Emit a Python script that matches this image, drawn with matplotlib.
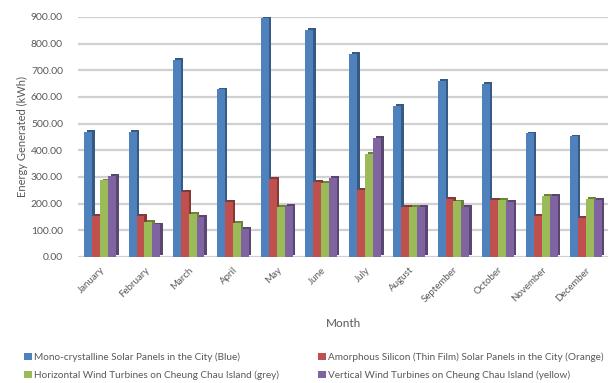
import matplotlib
matplotlib.use("Agg")
import matplotlib.pyplot as plt
import numpy as np
from matplotlib.patches import Patch
from matplotlib.colors import to_rgb

plt.rcParams['font.family'] = ['Lato', 'DejaVu Sans']

months = ["January", "February", "March", "April", "May", "June", "July",
          "August", "September", "October", "November", "December"]
mono = [468, 468, 738, 628, 895, 850, 760, 567, 660, 650, 463, 452]
amorphous = [155, 155, 243, 207, 294, 280, 250, 187, 218, 213, 154, 148]
horizontal = [287, 133, 160, 127, 186, 279, 387, 187, 208, 213, 228, 218]
vertical = [304, 122, 149, 106, 190, 297, 445, 189, 188, 207, 228, 213]

series_names = ["Mono-crystalline Solar Panels in the City (Blue)",
                "Amorphous Silicon (Thin Film) Solar Panels in the City (Orange)",
                "Horizontal Wind Turbines on Cheung Chau Island (grey)",
                "Vertical Wind Turbines on Cheung Chau Island (yellow)"]
colors = ["#4F81BD", "#C0504D", "#9BBB59", "#8064A2"]
series = [mono, amorphous, horizontal, vertical]

fig = plt.figure(figsize=(6.16, 3.83), dpi=100)
ax = fig.add_axes([0.127, 0.329, 0.86, 0.627])

x = np.arange(len(months))
w = 0.18
dx = 0.055
dy = 7
txt = "#595959"

for i, (vals, c) in enumerate(zip(series, colors)):
    pos = x + (i - 1.5) * w
    dark = tuple(v * 0.7 for v in to_rgb(c))
    ax.bar(pos + dx, vals, width=w, bottom=dy, color=dark, zorder=2 + 2 * i, linewidth=0)
    ax.bar(pos, vals, width=w, color=c, zorder=3 + 2 * i, linewidth=0)

ax.set_ylim(0, 900)
ax.set_xlim(-0.5, 11.5)
ax.set_yticks(np.arange(0, 901, 100))
ax.set_yticklabels([f"{v:.2f}" for v in np.arange(0, 901, 100)], fontsize=7.5, color=txt)
ax.set_xticks(x)
ax.set_xticklabels(months, rotation=45, ha='right', rotation_mode='anchor', fontsize=7, color=txt)
ax.tick_params(axis='both', length=0)
ax.tick_params(axis='y', pad=11)
ax.tick_params(axis='x', pad=6)
ax.grid(axis='y', color="#D0D0D0", linewidth=1.6, zorder=0)
ax.set_axisbelow(True)
for s in ax.spines.values():
    s.set_visible(False)

ax.set_ylabel("Energy Generated (kWh)", fontsize=8, color=txt, labelpad=2)
ax.set_xlabel("Month", fontsize=8.5, color=txt, labelpad=10)

handles = [Patch(facecolor=c, edgecolor='none') for c in colors]
order = [0, 2, 1, 3]
fig.legend([handles[k] for k in order], [series_names[k] for k in order],
           loc='lower left', bbox_to_anchor=(0.025, -0.016),
           ncol=2, fontsize=7.2, frameon=False, handlelength=0.75, handleheight=0.75,
           handletextpad=0.25, columnspacing=3.9, labelcolor=txt, labelspacing=0.85)

fig.savefig("out.png", dpi=100)
